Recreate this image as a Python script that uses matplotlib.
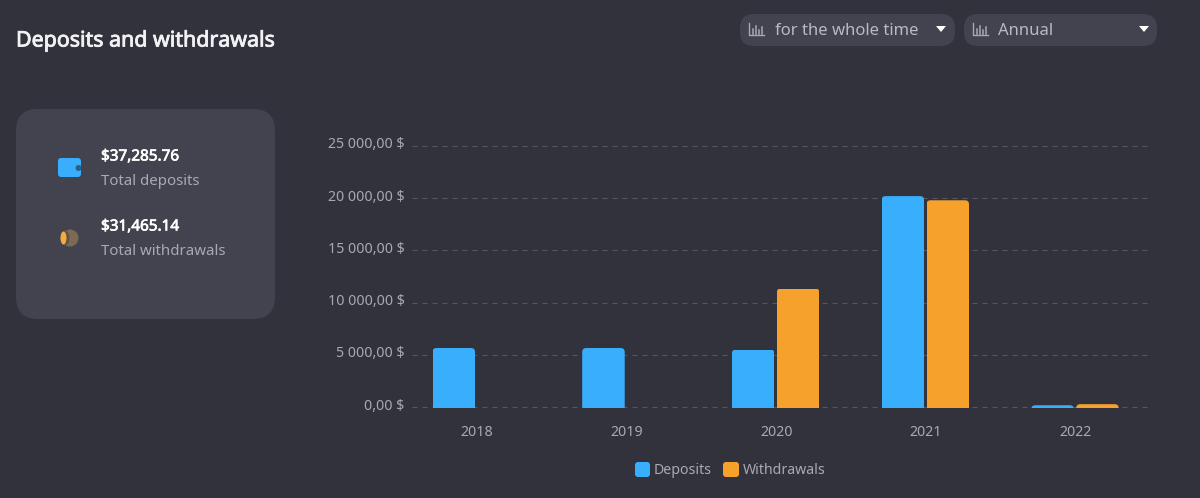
"""Deposits and withdrawals dashboard panel."""
import matplotlib
matplotlib.use("Agg")
import matplotlib.pyplot as plt
import matplotlib.patheffects as pe
from matplotlib.patches import Circle, Ellipse, FancyBboxPatch, Polygon
from matplotlib.transforms import ScaledTranslation

years = ["2018", "2019", "2020", "2021", "2022"]
deposits = [5650, 5650, 5500, 20200, 170]
withdrawals = [0, 0, 11350, 19800, 270]
y_ticks = [0, 5000, 10000, 15000, 20000, 25000]
y_labels = ["0,00 $", "5 000,00 $", "10 000,00 $", "15 000,00 $", "20 000,00 $", "25 000,00 $"]

BG = "#32323d"
CARD = "#43434f"
BLUE = "#39aefc"
ORANGE = "#f7a12d"
MUTED = "#a9a9b3"
W, H = 1200, 498

plt.rcParams["font.family"] = ["Noto Sans", "DejaVu Sans"]


def rounded(ui, x0, y0, x1, y1, r, color):
    ui.add_patch(FancyBboxPatch((x0 + r, y0 + r), x1 - x0 - 2 * r, y1 - y0 - 2 * r,
                                boxstyle=f"round,pad={r},rounding_size={r}",
                                fc=color, ec="none"))


def chart_icon(ui, x, y):
    # little bar chart glyph of the dropdowns
    ui.plot([x, x, x + 15], [y, y + 12, y + 12], color=MUTED, lw=1.0)
    for dx, h in [(4, 5), (7, 8), (10, 4), (13, 7)]:
        ui.plot([x + dx, x + dx], [y + 10.5, y + 10.5 - h], color=MUTED, lw=1.1)


def heavy(txt, width):
    # the installed Noto Sans has no heavier cut, so thicken the outline
    txt.set_path_effects([pe.withStroke(linewidth=width, foreground=txt.get_color())])


fig = plt.figure(figsize=(W / 100, H / 100), dpi=100, facecolor=BG)

# full figure layer in pixel coordinates for the page furniture
ui = fig.add_axes([0, 0, 1, 1])
ui.set_xlim(0, W)
ui.set_ylim(H, 0)
ui.axis("off")

title = ui.text(16, 41, "Deposits and withdrawals", color="#f2f2f5", fontsize=15.4, va="center")
heavy(title, 0.6)

rounded(ui, 740, 14, 955, 46, 14, CARD)
rounded(ui, 964, 14, 1157, 46, 14, CARD)
chart_icon(ui, 749, 23)
chart_icon(ui, 973, 23)
ui.text(775, 31, "for the whole time", color="#b9b9c1", fontsize=12.0, va="center")
ui.text(998, 31, "Annual", color="#b9b9c1", fontsize=12.0, va="center")
for cx in (941, 1144):
    ui.add_patch(Polygon([(cx - 5, 26), (cx + 5, 26), (cx, 32)], fc="white", ec="none"))

rounded(ui, 16, 109, 275, 319, 22, CARD)
rounded(ui, 58, 158, 81, 177, 3, BLUE)
ui.add_patch(Circle((78.5, 168), 3, fc="#2b5f86", ec="none"))
ui.add_patch(Circle((70, 238), 8.5, fc="#7d6a55", ec="none"))
ui.add_patch(Ellipse((65, 238), 9, 15, fc="#5f5344", ec="none"))
ui.add_patch(Ellipse((63.5, 238), 6, 13, fc="#f3ab3e", ec="none"))
for y, amount in [(157, "$37,285.76"), (227, "$31,465.14")]:
    heavy(ui.text(101, y, amount, color="white", fontsize=11.0, va="center"), 0.5)
ui.text(101, 181, "Total deposits", color=MUTED, fontsize=10.8, va="center")
ui.text(101, 251, "Total withdrawals", color=MUTED, fontsize=10.8, va="center")

rounded(ui, 635, 462, 650, 477, 3, BLUE)
rounded(ui, 723, 462, 739, 477, 3, ORANGE)
ui.text(654, 470, "Deposits", color=MUTED, fontsize=10.2, va="center")
ui.text(743, 470, "Withdrawals", color=MUTED, fontsize=10.2, va="center")

# the bar chart itself
ax = fig.add_axes([412 / W, 1 - 407 / H, (1147 - 412) / W, (407 - 146) / H])
ax.patch.set_alpha(0)
ax.set_xlim(-0.434, 4.476)
ax.set_ylim(0, 25000)

positions = range(len(years))
bar_w = 0.284
offset = 0.15
nudge = -0.005  # the pairs sit slightly left of the year labels
sink = 70  # hides the baseline dashes under the bars
for values, color, shift in [(deposits, BLUE, -offset), (withdrawals, ORANGE, offset)]:
    bars = ax.bar([p + shift + nudge for p in positions], values, bar_w, color=color,
                  linewidth=0, zorder=3)
    for bar in bars:
        if bar.get_height() == 0:
            continue
        bar.set_y(-sink)
        bar.set_height(bar.get_height() + sink)
        # round the top corners only, the lower ones fall below the axis
        rx, ry = 0.027, 385
        top = bar.get_y() + bar.get_height()
        clip = FancyBboxPatch((bar.get_x() + rx, -2000),
                              bar.get_width() - 2 * rx, top + 2000 - ry,
                              boxstyle=f"round,pad={rx},rounding_size={rx}",
                              mutation_aspect=ry / rx, transform=ax.transData)
        bar.set_clip_path(clip)
        bar.set_clip_box(None)

for tick in y_ticks:
    ax.axhline(tick, color="#565661", lw=0.8, dashes=(4.5, 4.5), clip_on=False, zorder=1)

ax.set_yticks(y_ticks, y_labels)
ax.set_xticks(list(positions), years)
ax.tick_params(axis="y", length=0, pad=5.2, labelcolor=MUTED, labelsize=10.2)
ax.tick_params(axis="x", length=0, pad=13, labelcolor=MUTED, labelsize=10.2)
# y labels sit a little above their grid lines
lift = ScaledTranslation(0, 3 / 100, fig.dpi_scale_trans)
for label in ax.get_yticklabels():
    label.set_transform(label.get_transform() + lift)
for spine in ax.spines.values():
    spine.set_visible(False)

fig.savefig("out.png", dpi=100, facecolor=BG)
